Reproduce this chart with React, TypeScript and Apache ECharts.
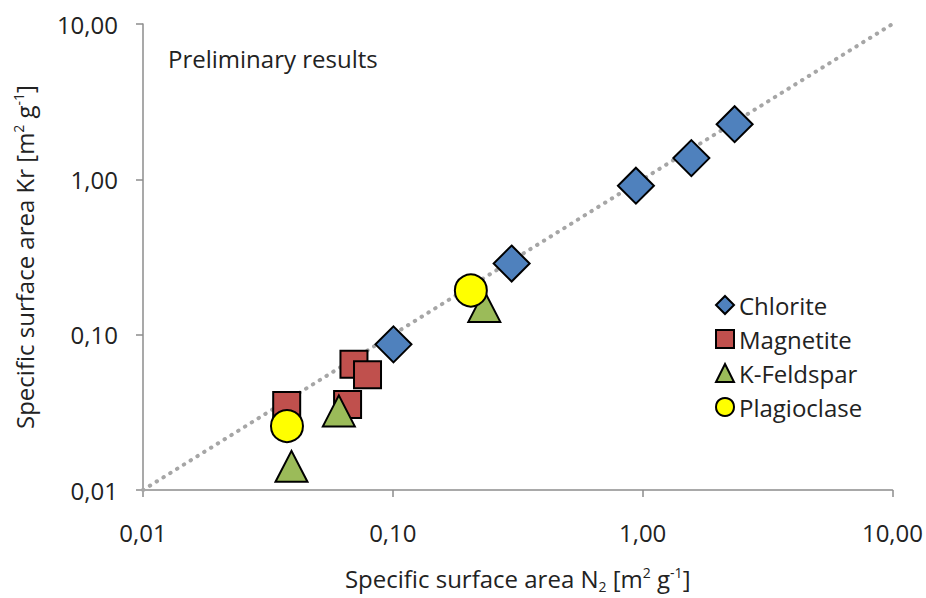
import React, { useEffect, useRef } from "react";
import * as echarts from "echarts";

const seriesNames = ["Chlorite", "Magnetite", "K-Feldspar", "Plagioclase"];
const chloriteN2 = [0.1006, 0.299, 0.94, 1.567, 2.335];
const chloriteKr = [0.0866, 0.287, 0.91, 1.37, 2.265];
const magnetiteN2 = [0.0376, 0.0699, 0.0792, 0.0659];
const magnetiteKr = [0.035, 0.0645, 0.0553, 0.0355];
const feldsparN2 = [0.0393, 0.0608, 0.2324];
const feldsparKr = [0.0142, 0.0323, 0.152];
const plagioclaseN2 = [0.0377, 0.2053];
const plagioclaseKr = [0.0258, 0.1925];
const oneToOneLine = [0.01, 10];
const axisMin = 0.01;
const axisMax = 10;
const annotation = "Preliminary results";

const FONT = "'Open Sans', sans-serif";
const TEXT = "#222222";
const FS = 24;

const pairs = (xs: number[], ys: number[]) => xs.map((x, i) => [x, ys[i]]);
const fmt = (v: number) => Number(v).toFixed(2).replace(".", ",");

const nameRich = {
  n: { fontSize: FS, fontFamily: FONT, color: TEXT, lineHeight: 30 },
  sup: { fontSize: 14, fontFamily: FONT, color: TEXT, verticalAlign: "top", lineHeight: 14, padding: [2, 0, 0, 0] },
  sub: { fontSize: 14, fontFamily: FONT, color: TEXT, verticalAlign: "bottom", lineHeight: 14 },
};

export default function App() {
  const ref = useRef<HTMLDivElement>(null);
  useEffect(() => {
    if (!ref.current) return;
    const chart = echarts.init(ref.current, undefined, { renderer: "svg" });
    const axisCommon = {
      type: "log",
      logBase: 10,
      min: axisMin,
      max: axisMax,
      splitLine: { show: false },
      minorTick: { show: false },
      axisLine: { show: true, lineStyle: { color: "#8c8c8c", width: 1.5 } },
      axisTick: { show: true, length: 7, lineStyle: { color: "#8c8c8c", width: 1.5 } },
      axisLabel: { formatter: fmt, fontFamily: FONT, fontSize: FS, color: TEXT },
      nameLocation: "middle",
    };
    const stroke = { borderColor: "#000", borderWidth: 2, opacity: 1 };
    chart.setOption({
      animation: false,
      backgroundColor: "#fff",
      grid: { left: 143, right: 31, top: 24, bottom: 107 },
      xAxis: {
        ...axisCommon,
        axisLabel: { ...axisCommon.axisLabel, margin: 30 },
        name: "{n|Specific surface area N}{sub|2}{n| [m}{sup|2}{n| g}{sup|-1}{n|]}",
        nameGap: 73,
        nameTextStyle: { rich: nameRich },
      },
      yAxis: {
        ...axisCommon,
        axisLabel: { ...axisCommon.axisLabel, margin: 25 },
        name: "{n|Specific surface area Kr [m}{sup|2}{n| g}{sup|-1}{n|]}",
        nameGap: 104,
        nameTextStyle: { rich: nameRich },
      },
      legend: {
        data: seriesNames,
        orient: "vertical",
        left: 710,
        top: 288,
        itemWidth: 18,
        itemHeight: 18,
        itemGap: 10,
        textStyle: { fontFamily: FONT, fontSize: FS, color: TEXT, lineHeight: 24 },
      },
      graphic: [
        {
          type: "text",
          left: 168,
          top: 46,
          style: { text: annotation, font: `${FS}px ${FONT}`, fill: TEXT },
        },
      ],
      series: [
        {
          type: "line",
          data: pairs(oneToOneLine, oneToOneLine),
          symbol: "none",
          silent: true,
          lineStyle: { color: "#a6a6a6", width: 4, type: [0.5, 7.5], cap: "round" },
          z: 1,
        },
        {
          name: seriesNames[0],
          type: "scatter",
          symbol: "diamond",
          symbolSize: 36,
          data: pairs(chloriteN2, chloriteKr),
          itemStyle: { color: "#4f81bd", ...stroke },
          z: 2,
        },
        {
          name: seriesNames[1],
          type: "scatter",
          symbol: "rect",
          symbolSize: 27,
          data: pairs(magnetiteN2, magnetiteKr),
          itemStyle: { color: "#c0504d", ...stroke },
          z: 3,
        },
        {
          name: seriesNames[2],
          type: "scatter",
          symbol: "triangle",
          symbolSize: [32, 31],
          data: pairs(feldsparN2, feldsparKr),
          itemStyle: { color: "#9bbb59", ...stroke },
          z: 4,
        },
        {
          name: seriesNames[3],
          type: "scatter",
          symbol: "circle",
          symbolSize: 32,
          data: pairs(plagioclaseN2, plagioclaseKr),
          itemStyle: { color: "#ffff00", ...stroke },
          z: 5,
        },
      ],
    });
    return () => chart.dispose();
  }, []);
  return (
    <div
      ref={ref}
      style={{ position: "fixed", left: 0, top: 0, width: 926, height: 598, background: "#fff" }}
    />
  );
}
